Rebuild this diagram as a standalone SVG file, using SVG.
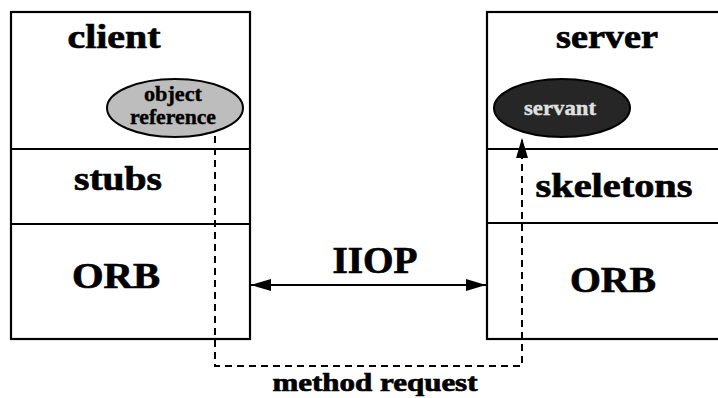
<svg xmlns="http://www.w3.org/2000/svg" width="718" height="398" viewBox="0 0 718 398">
  <style>
    .box { fill: #ffffff; stroke: #000000; stroke-width: 2.2; }
    .div { stroke: #000000; stroke-width: 2.2; fill: none; }
    .lbl { font-family: "Liberation Serif", "Times New Roman", serif; font-weight: bold; fill: #000000; stroke: #000000; stroke-width: 0.7; text-anchor: middle; }
    .big { font-size: 34px; }
    .orb { font-size: 36px; }
    .small { font-size: 22px; stroke-width: 0.4; }
    .light { fill: #e0e0e0; stroke: #e0e0e0; }
    .link { stroke: #000000; stroke-width: 2; fill: none; }
    .dash { stroke: #000000; stroke-width: 2; fill: none; stroke-dasharray: 7 5; }
  </style>
  <defs>
    <marker id="head" viewBox="0 0 20 12" refX="20" refY="6" markerWidth="20" markerHeight="12" markerUnits="userSpaceOnUse" orient="auto-start-reverse">
      <path d="M0,0 L20,6 L0,12 z" fill="#000000"/>
    </marker>
  </defs>
  <rect width="718" height="398" fill="#ffffff"/>

  <!-- client side: application, stubs, ORB -->
  <g id="client">
    <rect class="box" x="11" y="12" width="239" height="327"/>
    <line class="div" x1="11" y1="149" x2="250" y2="149"/>
    <line class="div" x1="11" y1="224" x2="250" y2="224"/>
    <text class="lbl big" x="114" y="48" textLength="93" lengthAdjust="spacingAndGlyphs">client</text>
  </g>
  <g id="object-reference">
    <ellipse cx="175" cy="108" rx="68" ry="29" fill="#bdbdbd" stroke="#000000" stroke-width="2"/>
    <text class="lbl small" x="173" y="101" textLength="58" lengthAdjust="spacingAndGlyphs">object</text>
    <text class="lbl small" x="173" y="124" textLength="86" lengthAdjust="spacingAndGlyphs">reference</text>
  </g>
  <g id="stubs">
    <text class="lbl big" x="118" y="190" textLength="88" lengthAdjust="spacingAndGlyphs">stubs</text>
  </g>
  <g id="client-orb">
    <text class="lbl orb" x="116" y="288" textLength="88" lengthAdjust="spacingAndGlyphs">ORB</text>
  </g>

  <!-- server side: application, skeletons, ORB -->
  <g id="server">
    <rect class="box" x="487" y="12" width="240" height="327"/>
    <line class="div" x1="487" y1="149" x2="727" y2="149"/>
    <line class="div" x1="487" y1="223" x2="727" y2="223"/>
    <text class="lbl big" x="607" y="48" textLength="102" lengthAdjust="spacingAndGlyphs">server</text>
  </g>
  <g id="servant">
    <ellipse cx="562" cy="108" rx="68" ry="29" fill="#262626" stroke="#000000" stroke-width="2"/>
    <text class="lbl small light" x="560" y="115" textLength="72" lengthAdjust="spacingAndGlyphs">servant</text>
  </g>
  <g id="skeletons">
    <text class="lbl big" x="614" y="197" textLength="157" lengthAdjust="spacingAndGlyphs">skeletons</text>
  </g>
  <g id="server-orb">
    <text class="lbl orb" x="613" y="292" textLength="86" lengthAdjust="spacingAndGlyphs">ORB</text>
  </g>

  <!-- connectors -->
  <g id="connectors">
    <line class="link" x1="251" y1="285" x2="486" y2="285" marker-start="url(#head)" marker-end="url(#head)"/>
    <text class="lbl" style="font-size:38px" x="375" y="273" textLength="85" lengthAdjust="spacingAndGlyphs">IIOP</text>
    <path class="dash" d="M215,136 V366 H522 V138" marker-end="url(#head)"/>
    <text class="lbl" style="font-size:25px" x="375" y="391" textLength="205" lengthAdjust="spacingAndGlyphs">method request</text>
  </g>
</svg>
